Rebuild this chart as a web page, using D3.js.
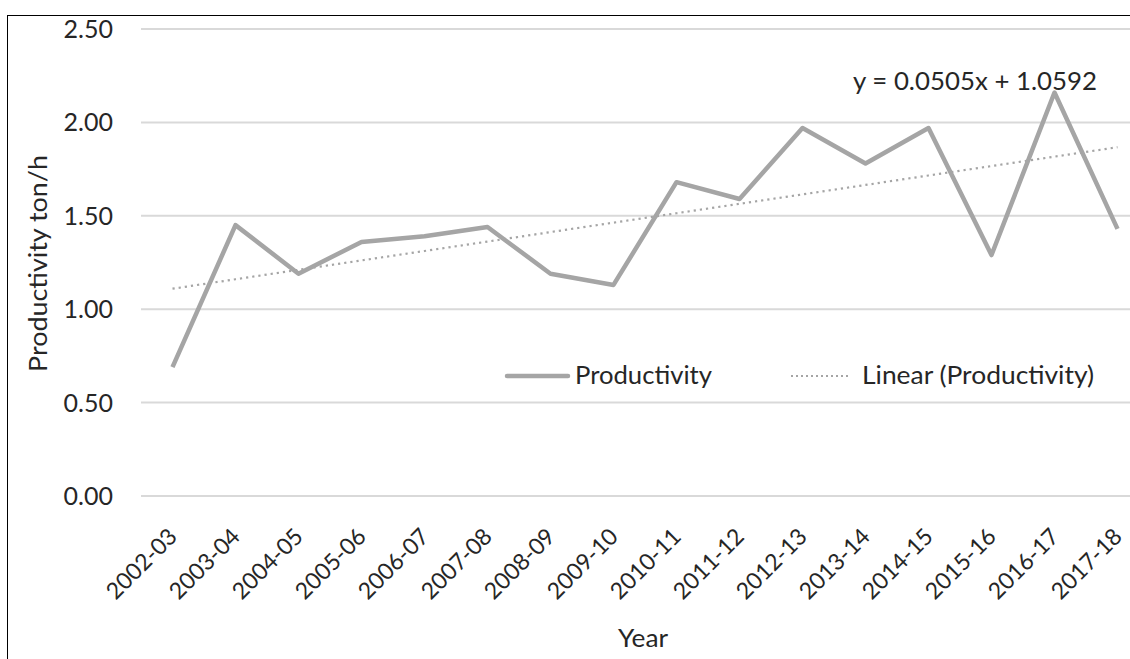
<!DOCTYPE html>
<html><head><meta charset="utf-8">
<script src="https://cdn.jsdelivr.net/npm/d3@7"></script>
<style>body{margin:0;background:#fff}svg{display:block}text{font-family:Lato,"Open Sans",sans-serif;fill:#262626}</style>
</head><body><svg id="c" width="1130" height="659"></svg>
<script>
const categories = ["2002-03","2003-04","2004-05","2005-06","2006-07","2007-08","2008-09","2009-10","2010-11","2011-12","2012-13","2013-14","2014-15","2015-16","2016-17","2017-18"];
const productivity = [0.69,1.45,1.19,1.36,1.39,1.44,1.19,1.13,1.68,1.59,1.97,1.78,1.97,1.29,2.16,1.43];
const trendSlope = 0.0505, trendIntercept = 1.0592;
const yTicks = [0,0.5,1,1.5,2,2.5];

const svg = d3.select("#c");
svg.append("rect").attr("x",7.5).attr("y",15.5).attr("width",1200).attr("height",700).attr("fill","none").attr("stroke","#000").attr("stroke-width",1);

const x = d3.scaleBand().domain(categories).range([141,1149]);
const y = d3.scaleLinear().domain([0,2.5]).range([496,29]);
const cx = d => x(d)+x.bandwidth()/2;

// grid
svg.append("g").selectAll("line").data(yTicks).join("line")
  .attr("x1",141).attr("x2",1149).attr("y1",d=>y(d)).attr("y2",d=>y(d))
  .attr("stroke","#d9d9d9").attr("stroke-width",2);

// y axis labels
const yAxis = d3.axisLeft(y).tickValues(yTicks).tickFormat(d3.format(".2f")).tickSize(0).tickPadding(0);
const ya = svg.append("g").attr("transform","translate(113,0)").call(yAxis);
ya.select(".domain").remove();
ya.selectAll("text").style("font-size","25px").style("font-family","Lato").attr("fill","#262626").attr("dy","0.34em");

// x axis labels
const xa = svg.append("g").attr("transform","translate(0,496)").call(d3.axisBottom(x).tickSize(0).tickPadding(0));
xa.select(".domain").remove();
xa.selectAll("text").style("font-size","23px").style("font-family","Lato").attr("fill","#262626")
  .attr("text-anchor","end").attr("dy","0").attr("y",0)
  .attr("transform","translate(6,42) rotate(-45)");

// trend line
const trend = categories.map((c,i)=>({c, v: trendSlope*(i+1)+trendIntercept}));
svg.append("path").datum(trend)
  .attr("d",d3.line().x(d=>cx(d.c)).y(d=>y(d.v)))
  .attr("fill","none").attr("stroke","#a5a5a5").attr("stroke-width",2.2).attr("stroke-dasharray","2.2,4");

// series line
svg.append("path").datum(productivity)
  .attr("d",d3.line().x((d,i)=>cx(categories[i])).y(d=>y(d)))
  .attr("fill","none").attr("stroke","#a5a5a5").attr("stroke-width",4.5).attr("stroke-linejoin","round");

// equation
svg.append("text").attr("x",853).attr("y",90).attr("textLength",244).attr("lengthAdjust","spacingAndGlyphs").style("font-size","25px").text("y = 0.0505x + 1.0592");

// legend
svg.append("line").attr("x1",507).attr("x2",568).attr("y1",376).attr("y2",376).attr("stroke","#a5a5a5").attr("stroke-width",4.5).attr("stroke-linecap","round");
svg.append("text").attr("x",575).attr("y",384).attr("textLength",137).attr("lengthAdjust","spacingAndGlyphs").style("font-size","25px").text("Productivity");
svg.append("line").attr("x1",791).attr("x2",851).attr("y1",376).attr("y2",376).attr("stroke","#a5a5a5").attr("stroke-width",2).attr("stroke-dasharray","2,3");
svg.append("text").attr("x",862).attr("y",384).attr("textLength",232).attr("lengthAdjust","spacingAndGlyphs").style("font-size","25px").text("Linear (Productivity)");

// axis titles
svg.append("text").attr("transform","translate(47,372) rotate(-90)").attr("textLength",217).attr("lengthAdjust","spacingAndGlyphs").style("font-size","25px").text("Productivity ton/h");
svg.append("text").attr("x",618).attr("y",647).attr("textLength",50).attr("lengthAdjust","spacingAndGlyphs").style("font-size","25px").text("Year");
</script></body></html>
